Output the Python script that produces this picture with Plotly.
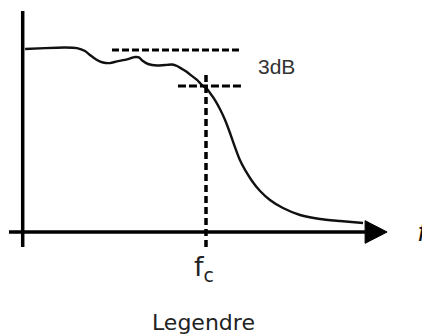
import plotly.graph_objects as go

# Frequency response curve (normalised: cutoff frequency = 1, passband level = 1)
freq = [0.013, 0.122, 0.231, 0.296, 0.340, 0.367, 0.405, 0.438, 0.476, 0.514,
        0.569, 0.613, 0.634, 0.656, 0.684, 0.733, 0.787, 0.815, 0.842, 0.869,
        0.896, 0.924, 0.951, 0.978, 1.000, 1.022, 1.049, 1.076, 1.104, 1.131,
        1.158, 1.185, 1.213, 1.251, 1.295, 1.349, 1.420, 1.513, 1.622, 1.731, 1.857]
gain = [1.000, 1.005, 1.008, 1.005, 0.989, 0.967, 0.940, 0.926, 0.923, 0.932,
        0.943, 0.956, 0.954, 0.934, 0.918, 0.910, 0.913, 0.915, 0.907, 0.891,
        0.874, 0.852, 0.831, 0.803, 0.787, 0.760, 0.721, 0.672, 0.612, 0.541,
        0.464, 0.393, 0.339, 0.279, 0.224, 0.175, 0.131, 0.093, 0.071, 0.060, 0.049]

# Reference levels
ref_level = 0.995          # upper dashed line (passband reference)
ref_span = [0.487, 1.180]
cut_level = 0.798          # lower dashed line (-3 dB)
cut_span = [0.847, 1.207]
fc = 1.0                   # cutoff frequency
fc_span = [-0.082, 0.874]

# Axes extents
x_axis = [-0.075, 1.868]
y_axis = [-0.082, 1.208]
arrow_tip = 1.988
arrow_half = 0.062

labels = {"db": "3dB", "fc": "f<sub>c</sub>", "f": "<i>f</i>", "title": "Legendre"}

fig = go.Figure()
fig.add_trace(go.Scatter(x=freq, y=gain, mode="lines",
                         line=dict(color="#111", width=2.4, shape="spline", smoothing=0.6),
                         hoverinfo="skip"))

shapes = []
# axes
shapes.append(dict(type="line", xref="x", yref="y", x0=x_axis[0], x1=x_axis[1], y0=0, y1=0,
                   line=dict(color="black", width=3.5)))
shapes.append(dict(type="line", xref="x", yref="y", x0=0, x1=0, y0=y_axis[0], y1=y_axis[1],
                   line=dict(color="black", width=3.5)))
# arrowhead
shapes.append(dict(type="path", xref="x", yref="y",
                   path=f"M {x_axis[1]},{arrow_half} L {arrow_tip},0 L {x_axis[1]},{-arrow_half} Z",
                   fillcolor="black", line=dict(color="black", width=1)))
# dashed reference lines
shapes.append(dict(type="line", xref="x", yref="y", x0=ref_span[0], x1=ref_span[1],
                   y0=ref_level, y1=ref_level,
                   line=dict(color="black", width=3, dash="7px,3px")))
shapes.append(dict(type="line", xref="x", yref="y", x0=cut_span[0], x1=cut_span[1],
                   y0=cut_level, y1=cut_level,
                   line=dict(color="black", width=3, dash="8px,3px")))
shapes.append(dict(type="line", xref="x", yref="y", x0=fc, x1=fc,
                   y0=fc_span[0], y1=fc_span[1],
                   line=dict(color="black", width=3.5, dash="7px,4px")))

annotations = [
    dict(x=1.387, y=0.902, xref="x", yref="y", text=labels["db"], showarrow=False,
         font=dict(family="Liberation Sans", size=21, color="#333")),
    dict(x=0.989, y=-0.197, xref="x", yref="y", text=labels["fc"], showarrow=False,
         font=dict(family="DejaVu Sans", size=27, color="#222")),
    dict(x=2.146, y=0.0, xref="x", yref="y", text=labels["f"], showarrow=False,
         xanchor="left", font=dict(family="Liberation Sans", size=26, color="#111")),
    dict(x=0.989, y=-0.492, xref="x", yref="y", text=labels["title"], showarrow=False,
         font=dict(family="DejaVu Sans", size=22, color="#222")),
]

# page body has an 8px default margin; ranges compensate so marks land in place
fig.update_layout(
    width=430, height=336,
    margin=dict(l=0, r=0, t=0, b=0),
    paper_bgcolor="white", plot_bgcolor="white",
    showlegend=False,
    xaxis=dict(visible=False, range=[-0.0802, 2.2657], fixedrange=True),
    yaxis=dict(visible=False, range=[-0.6120, 1.2240], fixedrange=True),
    shapes=shapes,
    annotations=annotations,
)

fig.write_html("out.html", config={"displayModeBar": False})
